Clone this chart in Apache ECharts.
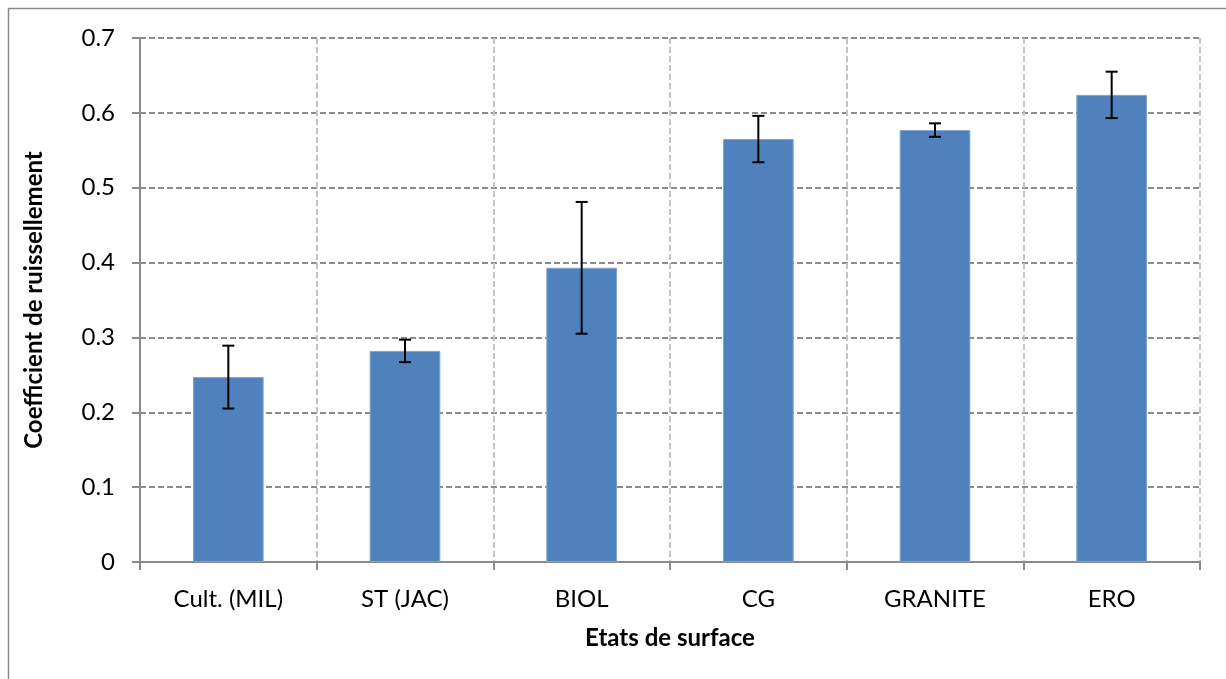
<!DOCTYPE html>
<html>
<head>
<meta charset="utf-8">
<script src="https://cdn.jsdelivr.net/npm/echarts@6/dist/echarts.min.js"></script>
<style>
  html, body { margin: 0; padding: 0; background: #fff; }
  #chart { width: 1226px; height: 679px; }
</style>
</head>
<body>
<div id="chart"></div>
<script>
    var categories = ['Cult. (MIL)', 'ST (JAC)', 'BIOL', 'CG', 'GRANITE', 'ERO'];
    var coefValues = [0.247, 0.282, 0.393, 0.565, 0.577, 0.624];
    var coefErrors = [0.042, 0.015, 0.088, 0.031, 0.009, 0.031];
    var yTicks = [0, 0.1, 0.2, 0.3, 0.4, 0.5, 0.6, 0.7];

    var FONT = 'Lato, "Open Sans", sans-serif';

    // error bar data: [index, low, high]
    var errorData = categories.map(function (c, i) {
        return [i, coefValues[i] - coefErrors[i], coefValues[i] + coefErrors[i]];
    });

    var renderErrorBar = function (params, api) {
        var lo = api.coord([api.value(0), api.value(1)]);
        var hi = api.coord([api.value(0), api.value(2)]);
        var half = 6;
        var style = { stroke: '#000', lineWidth: 2 };
        return {
            type: 'group',
            children: [
                { type: 'line', shape: { x1: hi[0], y1: hi[1], x2: lo[0], y2: lo[1] }, style: style },
                { type: 'line', shape: { x1: hi[0] - half, y1: hi[1], x2: hi[0] + half, y2: hi[1] }, style: style },
                { type: 'line', shape: { x1: lo[0] - half, y1: lo[1], x2: lo[0] + half, y2: lo[1] }, style: style }
            ]
        };
    };

    var myChart = echarts.init(document.getElementById('chart'), null, { renderer: 'canvas' });
    var option = {
        animation: false,
        backgroundColor: '#fff',
        graphic: [{
            type: 'rect',
            shape: { x: 8.5, y: 8.5, width: 1400, height: 900 },
            style: { fill: 'none', stroke: '#8a8a8a', lineWidth: 1.5 },
            silent: true
        }],
        grid: { left: 140, right: 26, top: 38, bottom: 117 },
        xAxis: {
            type: 'category',
            data: categories,
            name: 'Etats de surface',
            nameLocation: 'middle',
            nameGap: 64,
            nameTextStyle: { fontFamily: FONT, fontWeight: 'bold', fontSize: 24, color: '#000' },
            axisLine: { lineStyle: { color: '#8a8a8a', width: 2 } },
            axisTick: { show: true, length: 8, lineStyle: { color: '#8a8a8a', width: 2 } },
            axisLabel: { fontFamily: FONT, fontSize: 24, color: '#000', margin: 25 },
            splitLine: { show: true, lineStyle: { color: '#c4c4c4', type: [6, 3], width: 2 } }
        },
        yAxis: {
            type: 'value',
            min: 0,
            max: 0.7,
            interval: 0.1,
            name: 'Coefficient de ruissellement',
            nameLocation: 'middle',
            nameGap: 94,
            nameTextStyle: { fontFamily: FONT, fontWeight: 'bold', fontSize: 24, color: '#000' },
            axisLine: { show: true, lineStyle: { color: '#8a8a8a', width: 2 } },
            axisTick: { show: true, length: 8, lineStyle: { color: '#8a8a8a', width: 2 } },
            axisLabel: {
                fontFamily: FONT, fontSize: 24, color: '#000', margin: 25,
                formatter: function (v) {
                    var t = yTicks.find(function (k) { return Math.abs(k - v) < 1e-9; });
                    return t === 0 ? '0' : t.toFixed(1);
                }
            },
            splitLine: { show: true, lineStyle: { color: '#8c8c8c', type: [6, 3], width: 2 } }
        },
        series: [
            {
                type: 'bar',
                data: coefValues,
                barWidth: '40%',
                itemStyle: { color: '#4F81BD', borderColor: '#7ea3d1', borderWidth: 1 },
                z: 2
            },
            {
                type: 'custom',
                renderItem: renderErrorBar,
                data: errorData,
                encode: { x: 0, y: [1, 2] },
                z: 3
            }
        ]
    };
    myChart.setOption(option);
</script>
</body>
</html>
